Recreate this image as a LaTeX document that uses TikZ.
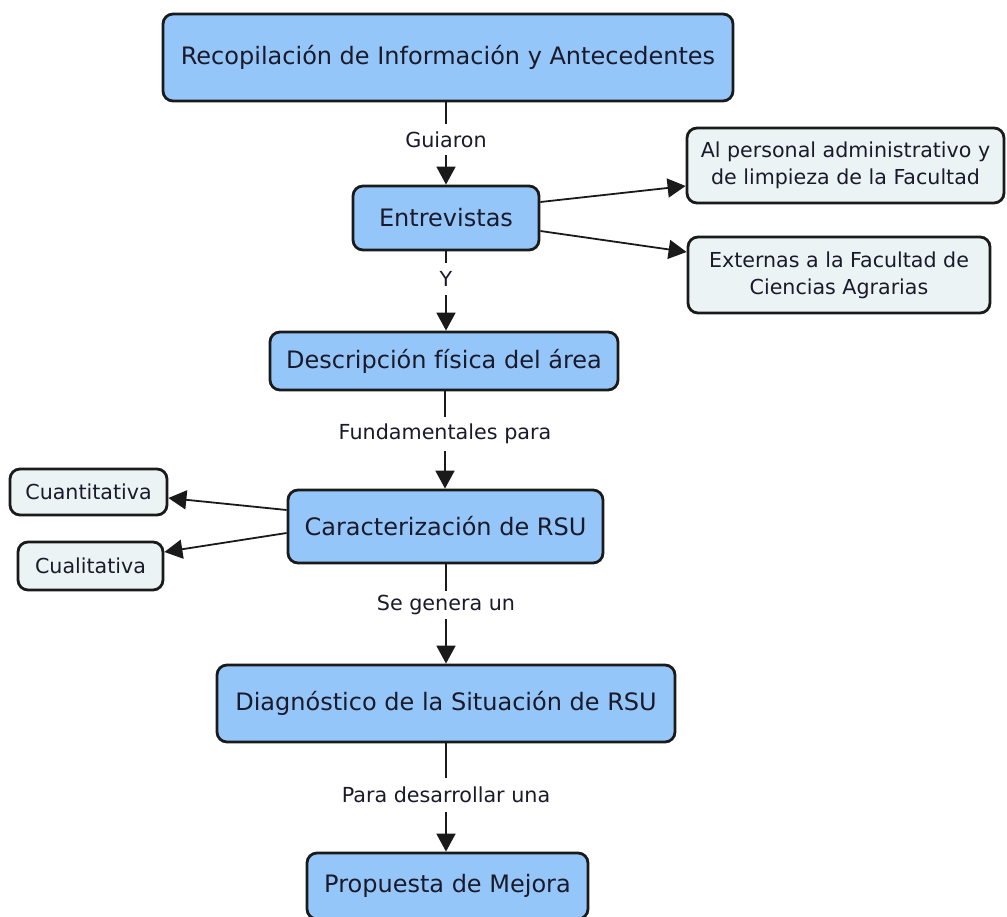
\documentclass[tikz,border=0pt]{standalone}
\usepackage{fontspec}
\setmainfont{DejaVu Sans}
\usetikzlibrary{arrows.meta}
\definecolor{mainblue}{HTML}{95C6F9}
\definecolor{sidegray}{HTML}{ECF3F5}
\definecolor{edge}{HTML}{1A1A1A}
\definecolor{txt}{HTML}{1A1A2A}
\tikzset{
  mainbox/.style={draw=edge, fill=mainblue, line width=2.8pt, rounded corners=10pt, align=center, text=txt, font=\fontsize{24}{28}\selectfont, inner sep=0pt},
  sidebox/.style={draw=edge, fill=sidegray, line width=2.8pt, rounded corners=10pt, align=center, text=txt, font=\fontsize{20.6}{27}\selectfont, inner sep=0pt},
  lab/.style={font=\fontsize{20.7}{24}\selectfont, text=txt, inner sep=0pt},
  conn/.style={draw=edge, line width=1.8pt},
  arr/.style={draw=edge, line width=1.8pt, -{Triangle[length=18pt,width=19pt]}},
}
\begin{document}
\begin{tikzpicture}[x=1pt,y=-1pt]
\useasboundingbox (0,0) rectangle (1007,917);
\node[mainbox, minimum width=570pt, minimum height=87pt] (rec) at (448,57.5) {Recopilación de Información y Antecedentes};
\node[mainbox, minimum width=186pt, minimum height=64pt] (ent) at (446,218) {Entrevistas};
\node[sidebox, minimum width=317pt, minimum height=75pt] (ap) at (845.5,165.5) {Al personal administrativo y\\de limpieza de la Facultad};
\node[sidebox, minimum width=302pt, minimum height=76pt] (ex) at (839,275) {Externas a la Facultad de\\Ciencias Agrarias};
\node[mainbox, minimum width=348pt, minimum height=58pt] (des) at (444,361) {Descripción física del área};
\node[sidebox, minimum width=157pt, minimum height=46pt] (cuan) at (88.5,492) {Cuantitativa};
\node[sidebox, minimum width=145pt, minimum height=48pt] (cual) at (90.5,566) {Cualitativa};
\node[mainbox, minimum width=315pt, minimum height=73pt] (car) at (445.5,526.5) {Caracterización de RSU};
\node[mainbox, minimum width=458pt, minimum height=77pt] (dia) at (446,703.5) {Diagnóstico de la Situación de RSU};
\node[mainbox, minimum width=281pt, minimum height=66pt] (pro) at (447.5,886) {Propuesta de Mejora};

\node[lab, minimum height=31pt] (l1) at (446,139.5) {Guiaron};
\node[lab, minimum height=32pt] (l2) at (446,279) {Y};
\node[lab, minimum height=34pt] (l3) at (445,434) {Fundamentales para};
\node[lab, minimum height=28pt] (l4) at (446,605) {Se genera un};
\node[lab, minimum height=34pt] (l5) at (446,795) {Para desarrollar una};

\draw[conn] (l1.north) -- (l1.north |- rec.south);
\draw[arr] (l1.south) -- (l1.south |- ent.north);
\draw[conn] (l2.north) -- (l2.north |- ent.south);
\draw[arr] (l2.south) -- (l2.south |- des.north);
\draw[conn] (l3.north) -- (l3.north |- des.south);
\draw[arr] (l3.south) -- (l3.south |- car.north);
\draw[conn] (l4.north) -- (l4.north |- car.south);
\draw[arr] (l4.south) -- (l4.south |- dia.north);
\draw[conn] (l5.north) -- (l5.north |- dia.south);
\draw[arr] (l5.south) -- (l5.south |- pro.north);

\draw[arr] ([yshift=16pt]ent.east) -- ([yshift=-20.5pt]ap.west);
\draw[arr] ([yshift=-13pt]ent.east) -- ([yshift=23pt]ex.west);
\draw[arr] ([yshift=16.5pt]car.west) -- ([yshift=-6pt]cuan.east);
\draw[arr] ([yshift=-6.5pt]car.west) -- ([yshift=14pt]cual.east);
\end{tikzpicture}
\end{document}
